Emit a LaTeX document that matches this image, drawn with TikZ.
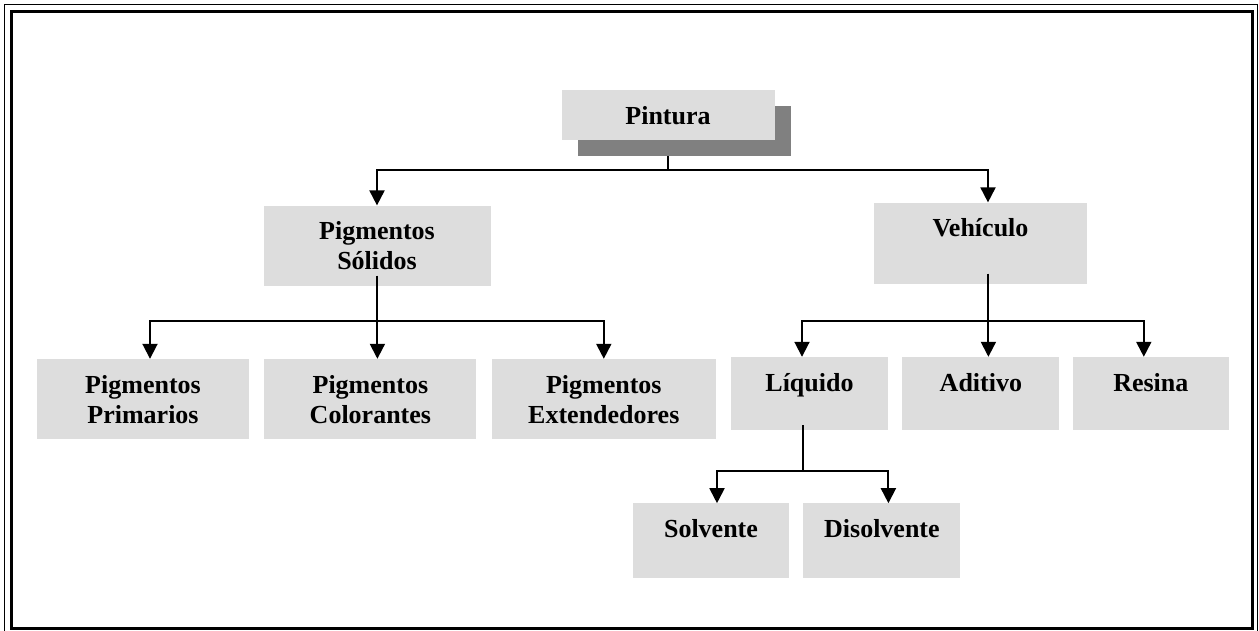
\documentclass[tikz,border=0pt]{standalone}
\usepackage{fontspec}
\setmainfont{Liberation Serif}
\usetikzlibrary{arrows.meta, positioning, shadows}
\definecolor{cajagris}{RGB}{221,221,221}
\definecolor{sombragris}{RGB}{128,128,128}

\begin{document}
\begin{tikzpicture}[
x=1pt, y=-1pt,
caja/.style={rectangle, fill=cajagris, inner sep=0pt, align=center, text height=34pt, font=\fontsize{26}{30}\selectfont\bfseries},
flecha/.style={-{Triangle[width=15pt, length=15pt]}, line width=1.9pt},
linea/.style={line width=1.9pt}
]
\useasboundingbox (0,0) rectangle (1259,631);
% marco doble
\draw[line width=1.2pt] (4.5,4.5) rectangle (1257.5,640);
\draw[line width=2.8pt] (11.5,11.5) rectangle (1252.5,628.5);

\node[caja, text width=213pt, text depth=16pt, anchor=north,
  drop shadow={shadow xshift=16pt, shadow yshift=-16pt, fill=sombragris, opacity=1}] (pintura) at (668,90) {Pintura};
\node[caja, text width=227pt, text depth=46pt, below=65pt of pintura, xshift=-291pt] (solidos) {Pigmentos\\Sólidos};
\node[caja, text width=213pt, text depth=47pt, below=62pt of pintura, xshift=312.5pt] (vehiculo) {Vehículo};
\node[caja, text width=212pt, text depth=46pt, below=73pt of solidos, xshift=-234pt] (primarios) {Pigmentos\\Primarios};
\node[caja, text width=212pt, text depth=46pt, right=15pt of primarios] (colorantes) {Pigmentos\\Colorantes};
\node[caja, text width=224pt, text depth=46pt, right=15pt of colorantes] (extendedores) {Pigmentos\\Extendedores};
\node[caja, text width=157pt, text depth=39pt, below=73pt of vehiculo, xshift=-171pt] (liquido) {Líquido};
\node[caja, text width=157pt, text depth=39pt, right=14pt of liquido] (aditivo) {Aditivo};
\node[caja, text width=156pt, text depth=39pt, right=13pt of aditivo] (resina) {Resina};
\node[caja, text width=156pt, text depth=41pt, below=73pt of liquido, xshift=-98.5pt] (solvente) {Solvente};
\node[caja, text width=157pt, text depth=41pt, right=14pt of solvente] (disolvente) {Disolvente};

\draw[flecha] ([yshift=-16pt]pintura.south) -- ++(0,14) -| (solidos.north);
\draw[flecha] ([yshift=-16pt]pintura.south) -- ++(0,14) -| ([xshift=7.5pt]vehiculo.north);
\draw[flecha] ([yshift=10pt]solidos.south) -- ++(0,45) -| ([xshift=7pt]primarios.north);
\draw[flecha] ([yshift=10pt]solidos.south) -- ++(0,45) -| ([xshift=7pt]colorantes.north);
\draw[flecha] ([yshift=10pt]solidos.south) -- ++(0,45) -| (extendedores.north);
\draw[flecha] ([xshift=7.5pt, yshift=10pt]vehiculo.south) -- ++(0,47) -| ([xshift=-7.5pt]liquido.north);
\draw[flecha] ([xshift=7.5pt, yshift=10pt]vehiculo.south) -- ++(0,47) -| ([xshift=7.5pt]aditivo.north);
\draw[flecha] ([xshift=7.5pt, yshift=10pt]vehiculo.south) -- ++(0,47) -| ([xshift=-7pt]resina.north);
\draw[flecha] ([xshift=-6.5pt, yshift=5pt]liquido.south) -- ++(0,46) -| ([xshift=6pt]solvente.north);
\draw[flecha] ([xshift=-6.5pt, yshift=5pt]liquido.south) -- ++(0,46) -| ([xshift=6.5pt]disolvente.north);
\end{tikzpicture}
\end{document}
